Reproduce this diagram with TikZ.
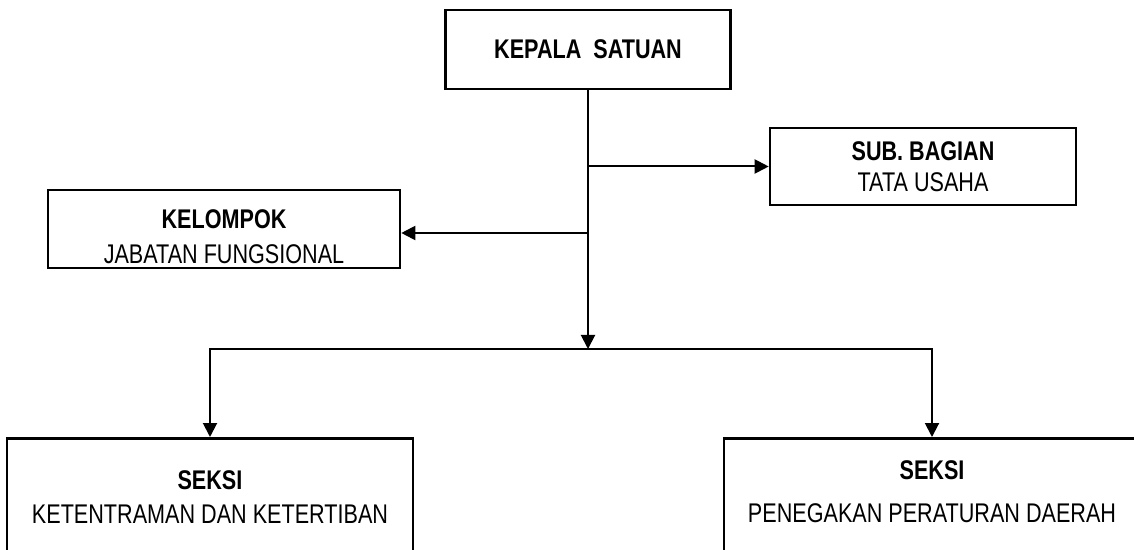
\documentclass[tikz,border=0pt]{standalone}
\usepackage{fontspec}
\setmainfont{Liberation Sans}[FakeStretch=0.8]
\usetikzlibrary{arrows.meta, positioning}

\begin{document}
\begin{tikzpicture}[x=0.5pt, y=-0.5pt, >={Triangle[length=7pt, width=7pt]}]
      \useasboundingbox (0,0) rectangle (1134,550);
      \clip (0,0) rectangle (1134,550);

      % Define the style for the boxes
      \tikzstyle{unit}=[draw, rectangle, line width=1.3pt, align=center, inner sep=0pt,
                        font=\fontsize{13.5}{15.5}\selectfont]
      \tikzstyle{caption}=[align=center, inner sep=0pt, font=\fontsize{13.5}{15.5}\selectfont]

      % Boxes
      \node[unit, minimum width=142.5pt, minimum height=39.5pt] (kepala) at (588,49.5)
            {\textbf{KEPALA\ \ SATUAN}};
      \node[unit, minimum width=153pt, minimum height=38.5pt] (sub) at (923,166.5)
            {\textbf{SUB. BAGIAN}\\TATA USAHA};
      \node[unit, minimum width=176pt, minimum height=39pt] (kelompok) at (224,229) {};
      \node[unit, anchor=north, minimum width=203pt, minimum height=70pt] (seksiA) at (210,437) {};
      \node[unit, anchor=north, minimum width=208pt, minimum height=70pt] (seksiB) at (932,437) {};

      % Texts of the boxes that sit off centre
      \node[caption, below=10.5pt of kelompok.north] (kelompoktext)
            {\textbf{KELOMPOK}\\[2pt]JABATAN FUNGSIONAL};
      \node[caption, below=16.5pt of seksiA.north] (seksiAtext)
            {\textbf{SEKSI}\\[1.5pt]KETENTRAMAN DAN KETERTIBAN};
      \node[caption, below=11.5pt of seksiB.north] (seksiBtext)
            {\textbf{SEKSI}\\[6pt]PENEGAKAN PERATURAN DAERAH};

      % Junctions on the trunk
      \coordinate (hub) at (588,349);
      \coordinate (subfork) at (kepala.south |- sub.west);
      \coordinate (kelfork) at (588,233);

      % Define the style for the edges
      \tikzstyle{edge}=[draw, line width=1pt]

      % Edges
      \draw[edge, ->] (kepala.south) -- (hub);
      \draw[edge, ->] (subfork) -- (sub.west);
      \draw[edge, ->] (kelfork) -- (kelfork -| kelompok.east);
      \draw[edge, ->] (hub) -| (seksiA.north);
      \draw[edge, ->] (hub) -| (seksiB.north);

\end{tikzpicture}
\end{document}
